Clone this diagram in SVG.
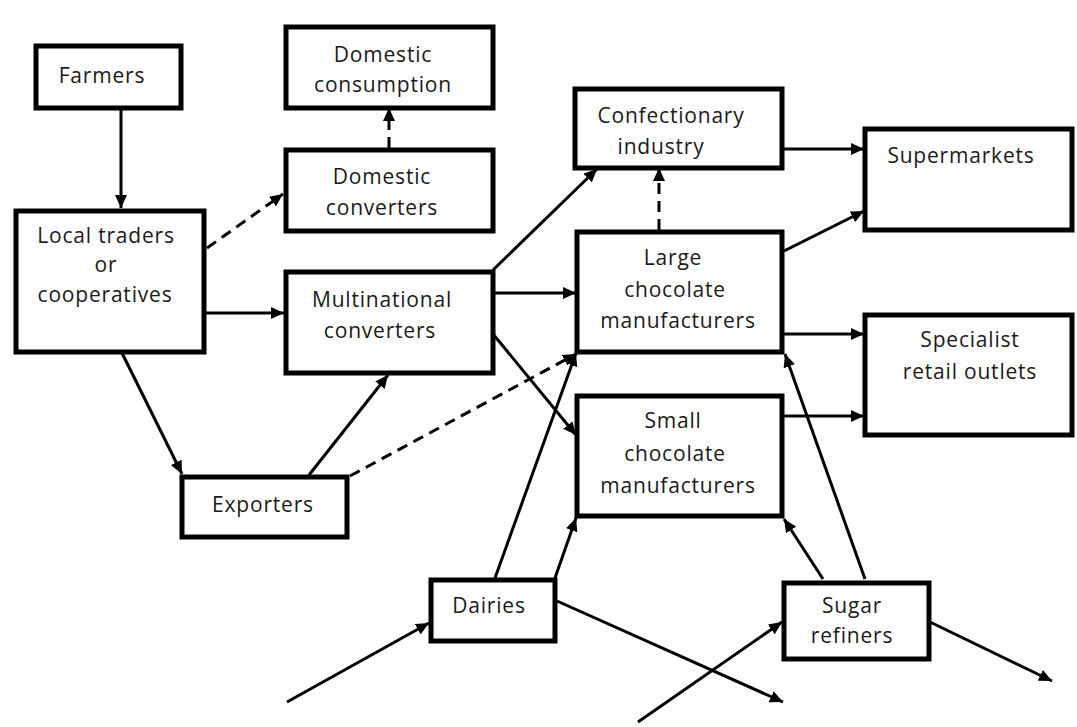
<svg xmlns="http://www.w3.org/2000/svg" width="1077" height="727" viewBox="0 0 1077 727">
<style>
.box{fill:#fff;stroke:#000;stroke-width:5}
.t{font-family:"Open Sans","Noto Sans",sans-serif;font-size:21px;letter-spacing:0.8px;fill:#1a1a1a;text-anchor:middle}
.c{fill:none;stroke:#000;stroke-width:3}
.d{stroke-dasharray:11 7}
</style>
<defs>
<marker id="ah" markerUnits="userSpaceOnUse" markerWidth="14" markerHeight="12" refX="13" refY="6" orient="auto">
<path d="M0,0 L13,6 L0,12 z" fill="#000"/>
</marker>
</defs>
<rect width="1077" height="727" fill="#fff"/>
<g id="connectors">
<line class="c" x1="121" y1="108" x2="121" y2="208" marker-end="url(#ah)"/>
<line class="c d" x1="207" y1="248" x2="283" y2="194" marker-end="url(#ah)"/>
<line class="c" x1="205" y1="313" x2="284" y2="313" marker-end="url(#ah)"/>
<line class="c d" x1="389" y1="148" x2="389" y2="108" marker-end="url(#ah)"/>
<line class="c" x1="122" y1="353" x2="182" y2="474" marker-end="url(#ah)"/>
<line class="c" x1="309" y1="475" x2="388" y2="375" marker-end="url(#ah)"/>
<line class="c d" x1="350" y1="476" x2="576" y2="354" marker-end="url(#ah)"/>
<line class="c" x1="493" y1="270" x2="597" y2="169" marker-end="url(#ah)"/>
<line class="c" x1="493" y1="293" x2="576" y2="293" marker-end="url(#ah)"/>
<line class="c" x1="493" y1="334" x2="576" y2="435" marker-end="url(#ah)"/>
<line class="c d" x1="659" y1="230" x2="659" y2="168" marker-end="url(#ah)"/>
<line class="c" x1="782" y1="149" x2="864" y2="149" marker-end="url(#ah)"/>
<line class="c" x1="784" y1="251" x2="864" y2="211" marker-end="url(#ah)"/>
<line class="c" x1="782" y1="334" x2="864" y2="334" marker-end="url(#ah)"/>
<line class="c" x1="782" y1="416" x2="864" y2="416" marker-end="url(#ah)"/>
<line class="c" x1="495" y1="578" x2="576" y2="353" marker-end="url(#ah)"/>
<line class="c" x1="555" y1="578" x2="576" y2="518" marker-end="url(#ah)"/>
<line class="c" x1="557" y1="601" x2="783" y2="702" marker-end="url(#ah)"/>
<line class="c" x1="287" y1="702" x2="429" y2="623" marker-end="url(#ah)"/>
<line class="c" x1="638" y1="722" x2="782" y2="622" marker-end="url(#ah)"/>
<line class="c" x1="823" y1="579" x2="784" y2="519" marker-end="url(#ah)"/>
<line class="c" x1="865" y1="579" x2="785" y2="354" marker-end="url(#ah)"/>
<line class="c" x1="930" y1="622" x2="1052" y2="681" marker-end="url(#ah)"/>
</g>
<g id="farmers"><rect class="box" x="36" y="46" width="145" height="62"/><text class="t" x="102" y="83">Farmers</text></g>
<g id="domestic-consumption"><rect class="box" x="286" y="27" width="207" height="81"/><text class="t" x="383" y="62">Domestic</text><text class="t" x="383" y="92">consumption</text></g>
<g id="domestic-converters"><rect class="box" x="286" y="150" width="207" height="81"/><text class="t" x="382" y="184">Domestic</text><text class="t" x="382" y="215">converters</text></g>
<g id="local-traders"><rect class="box" x="16" y="211" width="188" height="141"/><text class="t" x="106" y="243">Local traders</text><text class="t" x="106" y="272">or</text><text class="t" x="105" y="302">cooperatives</text></g>
<g id="multinational-converters"><rect class="box" x="286" y="272" width="207" height="101"/><text class="t" x="382" y="307">Multinational</text><text class="t" x="380" y="338">converters</text></g>
<g id="exporters"><rect class="box" x="182" y="477" width="165" height="60"/><text class="t" x="263" y="512">Exporters</text></g>
<g id="confectionary-industry"><rect class="box" x="575" y="89" width="207" height="79"/><text class="t" x="671" y="123">Confectionary</text><text class="t" x="661" y="154">industry</text></g>
<g id="large-chocolate"><rect class="box" x="577" y="232" width="205" height="120"/><text class="t" x="673" y="265">Large</text><text class="t" x="675" y="297">chocolate</text><text class="t" x="678" y="328">manufacturers</text></g>
<g id="small-chocolate"><rect class="box" x="577" y="396" width="205" height="120"/><text class="t" x="673" y="428">Small</text><text class="t" x="675" y="461">chocolate</text><text class="t" x="678" y="493">manufacturers</text></g>
<g id="supermarkets"><rect class="box" x="865" y="129" width="207" height="101"/><text class="t" x="961" y="163">Supermarkets</text></g>
<g id="specialist-retail"><rect class="box" x="865" y="315" width="207" height="120"/><text class="t" x="970" y="347">Specialist</text><text class="t" x="970" y="379">retail outlets</text></g>
<g id="dairies"><rect class="box" x="431" y="580" width="124" height="61"/><text class="t" x="489" y="613">Dairies</text></g>
<g id="sugar-refiners"><rect class="box" x="784" y="583" width="145" height="76"/><text class="t" x="852" y="613">Sugar</text><text class="t" x="852" y="643">refiners</text></g>
</svg>
